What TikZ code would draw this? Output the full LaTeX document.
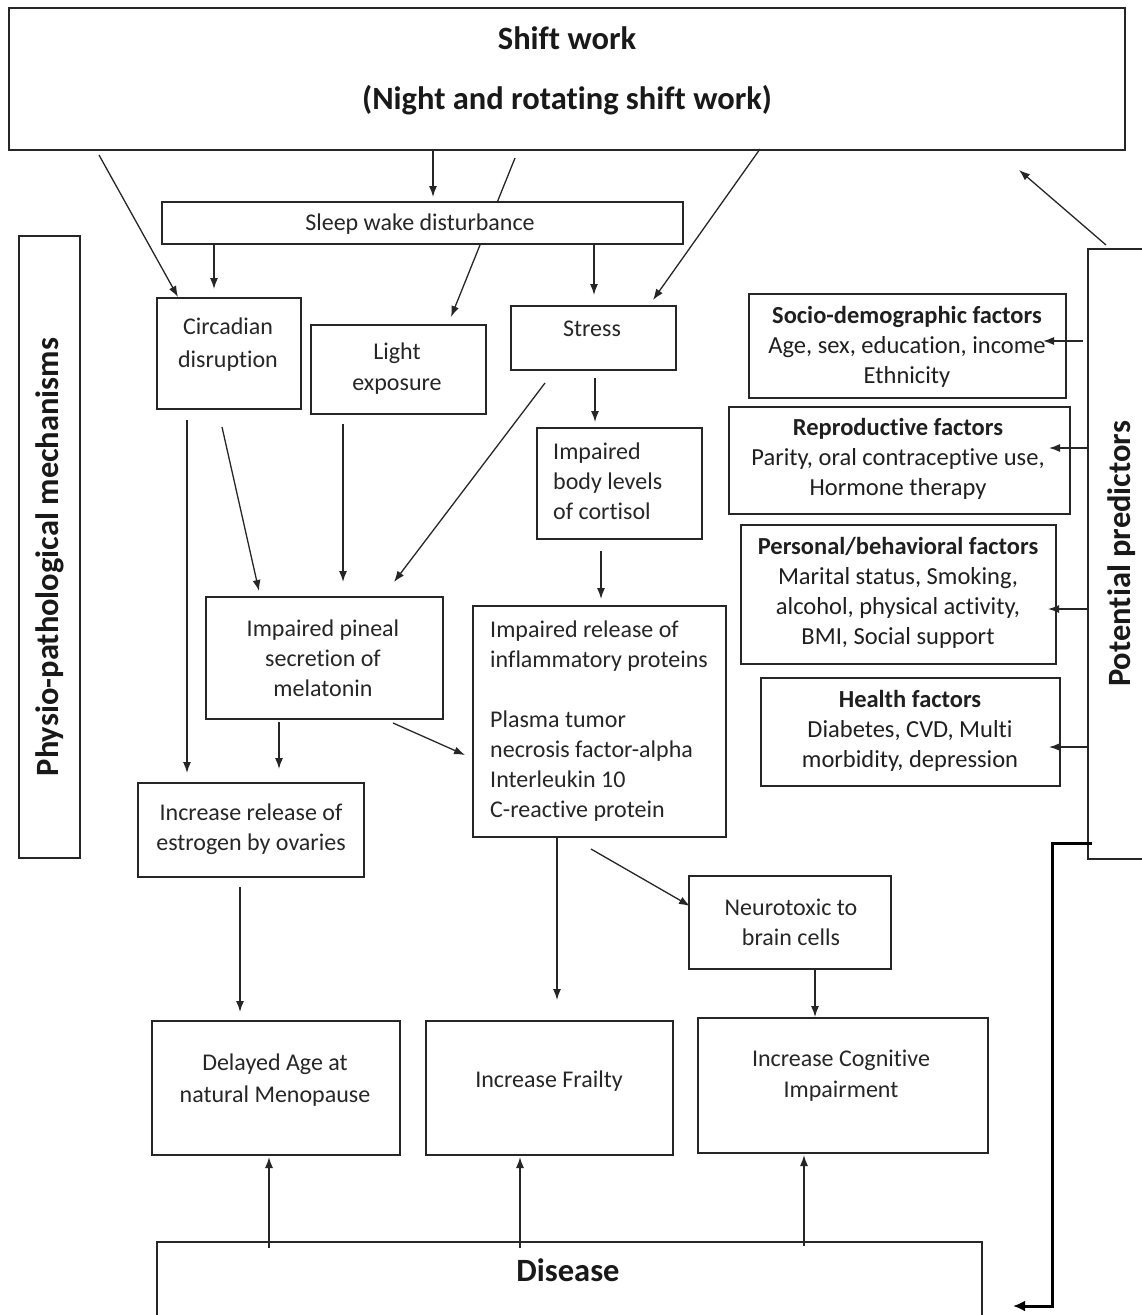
\documentclass[tikz,border=0pt]{standalone}
\usepackage{fontspec}
\setmainfont[Ligatures=NoCommon]{Carlito}
\usetikzlibrary{arrows.meta,backgrounds}
\begin{document}
\begin{tikzpicture}[x=1pt,y=-1pt,
  box/.style={draw=black!85,line width=1.5pt,inner sep=0pt,outer sep=0pt},
  txt/.style={font=\fontsize{24}{30}\selectfont,align=center,inner sep=0pt,text=black!85},
  head/.style={font=\bfseries\fontsize{32.5}{40}\selectfont,inner sep=0pt,text=black!90},
  ftxt/.style={font=\fontsize{24.5}{30}\selectfont,align=center,inner sep=0pt,text=black!88},
  arr/.style={draw=black!85,line width=1.3pt,-{Latex[length=11pt,width=8pt]}},
  thickarr/.style={draw=black,line width=3pt,-{Latex[length=12pt,width=11pt]}}]
\useasboundingbox (0,0) rectangle (1141,1315);
% ---------- boxes ----------
\node[box,line width=2pt,minimum width=1116,minimum height=142] (shift) at (567,79) {};
\node[box,fill=white,minimum width=521,minimum height=42] (sleep) at (422.5,223) {};
\node[box,minimum width=144,minimum height=111] (circ) at (229,353.5) {};
\node[box,minimum width=175,minimum height=89] (light) at (398.5,369.5) {};
\node[box,minimum width=165,minimum height=64] (stress) at (593.5,338) {};
\node[box,minimum width=165,minimum height=111] (cort) at (619.5,483.5) {};
\node[box,minimum width=237,minimum height=122] (pineal) at (324.5,658) {};
\node[box,minimum width=253,minimum height=231] (infl) at (599.5,721.5) {};
\node[box,minimum width=226,minimum height=94] (estro) at (251,830) {};
\node[box,minimum width=202,minimum height=93] (neuro) at (790,922.5) {};
\node[box,minimum width=248,minimum height=134] (meno) at (276,1088) {};
\node[box,minimum width=247,minimum height=134] (frail) at (549.5,1088) {};
\node[box,minimum width=290,minimum height=135] (cogn) at (843,1085.5) {};
\node[box,line width=2pt,minimum width=825,minimum height=110] (disease) at (569.5,1297) {};
\node[box,minimum width=61,minimum height=622] (phys) at (49.5,547) {};
\node[box,minimum width=70,minimum height=610] (pred) at (1123,554) {};
\node[box,minimum width=317,minimum height=104] (socio) at (907.5,346) {};
\node[box,minimum width=341,minimum height=107] (repro) at (899.5,460.5) {};
\node[box,minimum width=315,minimum height=139] (pers) at (898.5,594.5) {};
\node[box,minimum width=299,minimum height=108] (health) at (910.5,732) {};
% ---------- texts ----------
\node[head] (tshift1) at (567,38) {Shift work};
\node[head] (tshift2) at (567,100) {(Night and rotating shift work)};
\node[txt] (tsleep) at (420,224) {Sleep wake disturbance};
\node[txt,font=\fontsize{24}{33}\selectfont] (tcirc) at (228,345) {Circadian\\disruption};
\node[txt,font=\fontsize{24}{31}\selectfont] (tlight) at (397,369) {Light\\exposure};
\node[txt] (tstress) at (592,329) {Stress};
\node[txt,align=left,anchor=west] (tcort) at (553,481) {Impaired\\body levels\\of cortisol};
\node[txt] (tpineal) at (323,658) {Impaired pineal\\secretion of\\melatonin};
\node[txt,align=left,anchor=west] (tinfl) at (490,721) {Impaired release of\\inflammatory proteins\\[30pt]Plasma tumor\\necrosis factor-alpha\\Interleukin 10\\C-reactive protein};
\node[txt] (testro) at (251,829) {Increase release of\\estrogen by ovaries};
\node[txt] (tneuro) at (791,922) {Neurotoxic to\\brain cells};
\node[txt,font=\fontsize{24}{32}\selectfont] (tmeno) at (275,1080) {Delayed Age at\\natural Menopause};
\node[txt] (tfrail) at (549,1081) {Increase Frailty};
\node[txt,font=\fontsize{24}{31}\selectfont] (tcogn) at (841,1076) {Increase Cognitive\\Impairment};
\node[head] (tdisease) at (568,1270) {Disease};
\node[head,rotate=90] (tphys) at (50,557) {Physio-pathological mechanisms};
\node[head,rotate=90] (tpred) at (1122,554) {Potential predictors};
\node[ftxt] (tsocio) at (907,347) {\textbf{Socio-demographic factors}\\Age, sex, education, income\\Ethnicity};
\node[ftxt] (trepro) at (898,459) {\textbf{Reproductive factors}\\Parity, oral contraceptive use,\\Hormone therapy};
\node[ftxt] (tpers) at (898,593) {\textbf{Personal/behavioral factors}\\Marital status, Smoking,\\alcohol, physical activity,\\BMI, Social support};
\node[ftxt] (thealth) at (910,731) {\textbf{Health factors}\\Diabetes, CVD, Multi\\morbidity, depression};
% ---------- connectors ----------
\begin{pgfonlayer}{background}
\draw[arr] ([shift={(506,150)}]shift.north west) -- ([shift={(140,-8)}]light.north west);
\end{pgfonlayer}
\draw[arr] ([shift={(424,142)}]shift.north west) -- ([shift={(271,-5)}]sleep.north west);
\draw[arr] ([shift={(90,147)}]shift.north west) -- ([shift={(21,-1)}]circ.north west);
\draw[arr] ([shift={(751,141)}]shift.north west) -- ([shift={(142,-6)}]stress.north west);
\draw[arr] ([shift={(52,42)}]sleep.north west) -- ([shift={(57,-9)}]circ.north west);
\draw[arr] ([shift={(432,42)}]sleep.north west) -- ([shift={(83,-11)}]stress.north west);
\draw[arr] ([shift={(30,122)}]circ.north west) -- ([shift={(49,-10)}]estro.north west);
\draw[arr] ([shift={(65,129)}]circ.north west) -- ([shift={(53,-6)}]pineal.north west);
\draw[arr] ([shift={(32,99)}]light.north west) -- ([shift={(137,-15)}]pineal.north west);
\draw[arr] ([shift={(34,77)}]stress.north west) -- ([shift={(188,-15)}]pineal.north west);
\draw[arr] ([shift={(84,72)}]stress.north west) -- ([shift={(58,-6)}]cort.north west);
\draw[arr] ([shift={(64,123)}]cort.north west) -- ([shift={(128,-7)}]infl.north west);
\draw[arr] ([shift={(73,125)}]pineal.north west) -- ([shift={(141,-14)}]estro.north west);
\draw[arr] ([shift={(187,126)}]pineal.north west) -- ([shift={(-8,149)}]infl.north west);
\draw[arr] ([shift={(84,231)}]infl.north west) -- ([shift={(131,-21)}]frail.north west);
\draw[arr] ([shift={(118,243)}]infl.north west) -- ([shift={(1,30)}]neuro.north west);
\draw[arr] ([shift={(102,104)}]estro.north west) -- ([shift={(88,-9)}]meno.north west);
\draw[arr] ([shift={(126,94)}]neuro.north west) -- ([shift={(117,-1)}]cogn.north west);
\draw[arr] ([shift={(112,6)}]disease.north west) -- ([shift={(117,136)}]meno.north west);
\draw[arr] ([shift={(363,6)}]disease.north west) -- ([shift={(94,136)}]frail.north west);
\draw[arr] ([shift={(647,4)}]disease.north west) -- ([shift={(106,137)}]cogn.north west);
\draw[arr] ([shift={(18,-4)}]pred.north west) -- ([shift={(1010,162)}]shift.north west);
\draw[arr] ([shift={(-5,92)}]pred.north west) -- ([shift={(294,47)}]socio.north west);
\draw[arr] ([shift={(0,199)}]pred.north west) -- ([shift={(320,41)}]repro.north west);
\draw[arr] ([shift={(0,360)}]pred.north west) -- ([shift={(307,84)}]pers.north west);
\draw[arr] ([shift={(0,498)}]pred.north west) -- ([shift={(288,69)}]health.north west);
\draw[thickarr] ([shift={(4,594)}]pred.north west) -- ++(-40,0) |- ([shift={(856,64)}]disease.north west);
\end{tikzpicture}
\end{document}
